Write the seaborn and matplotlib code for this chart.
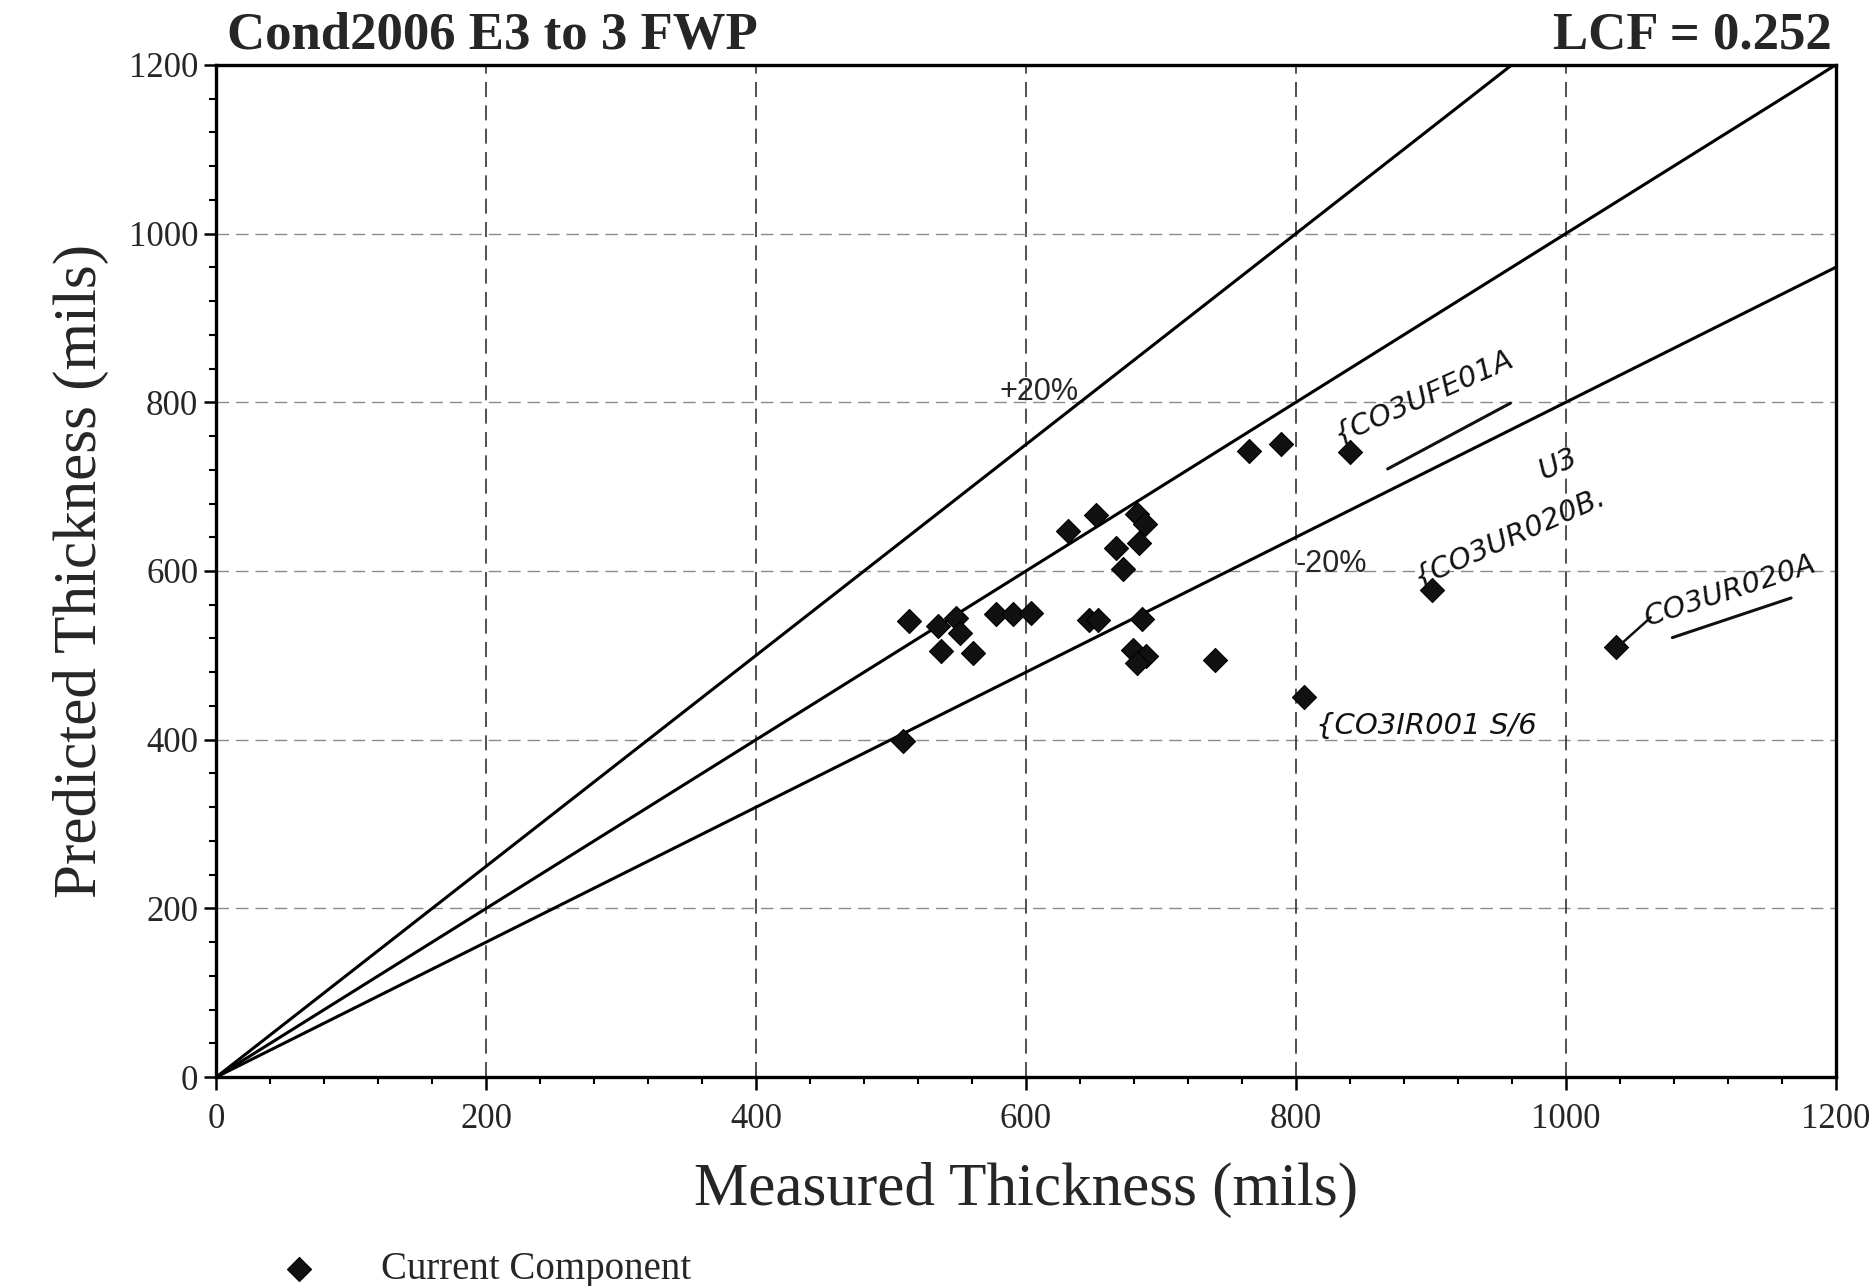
import matplotlib
matplotlib.use("Agg")
import matplotlib.pyplot as plt
import numpy as np
import pandas as pd
import seaborn as sns
from matplotlib.ticker import MultipleLocator

# Measured vs. predicted wall thickness (mils)
measured = [509, 513, 535, 537, 548, 551, 561, 578, 590, 604,
            631, 647, 653, 652, 667, 672, 682, 684, 688, 686,
            679, 689, 682, 740, 765, 789, 806, 840, 901, 1037]
predicted = [399, 541, 535, 505, 544, 526, 503, 549, 549, 550,
             648, 542, 542, 666, 627, 602, 668, 633, 656, 543,
             506, 499, 491, 495, 742, 751, 450, 741, 577, 510]

# Reference lines: +20%, 1:1, -20%
ref_slopes = [1.25, 1.0, 0.8]
ref_x = [0, 1200]

title_left = "Cond2006 E3 to 3 FWP"
title_right = "LCF = 0.252"
x_label = "Measured Thickness (mils)"
y_label = "Predicted Thickness (mils)"
legend_label = "Current Component"

# Hand-written component notes (text, x, y, rotation)
notes = [
    ("{CO3UFE01A", 833, 745, 24),
    ("U3", 985, 702, 25),
    ("{CO3UR020B.", 893, 575, 24),
    ("CO3UR020A", 1062, 528, 18),
    ("{CO3IR001 S/6", 815, 400, 0),
]
underlines = [
    ([868, 959], [721, 799]),
    ([1079, 1167], [521, 568]),
]
leader = ([1040, 1063], [512, 545])

sns.set_style("white")
plt.rcParams["font.family"] = ["Liberation Serif", "DejaVu Serif"]

fig = plt.figure(figsize=(18.75, 12.86), dpi=100)
ax = fig.add_axes([0.1154, 0.1625, 0.8636, 0.787])

df = pd.DataFrame({"Measured": measured, "Predicted": predicted})

# Dashed grid at major ticks
for v in [200, 400, 600, 800, 1000]:
    ax.axvline(v, color="#333333", lw=1.2, ls=(0, (9, 5)), zorder=1)
    ax.axhline(v, color="#8a8a8a", lw=1.0, ls=(0, (9, 5)), zorder=1)

for s in ref_slopes:
    xs = np.array(ref_x, dtype=float)
    sns.lineplot(x=xs, y=s * xs, ax=ax, color="black", lw=2.2, zorder=2)

sns.scatterplot(data=df, x="Measured", y="Predicted", ax=ax, marker="D",
                s=150, color="#111111", edgecolor="black", linewidth=0.8,
                zorder=3, label=legend_label)

ax.set_xlim(0, 1200)
ax.set_ylim(0, 1200)
ax.xaxis.set_major_locator(MultipleLocator(200))
ax.yaxis.set_major_locator(MultipleLocator(200))
ax.xaxis.set_minor_locator(MultipleLocator(40))
ax.yaxis.set_minor_locator(MultipleLocator(40))
ax.tick_params(axis="both", which="major", direction="out", length=9,
               width=1.8, labelsize=25, pad=4, color="black",
               bottom=True, left=True)
ax.tick_params(axis="both", which="minor", direction="out", length=5,
               width=1.5, bottom=True, left=True, color="black")
ax.tick_params(axis="x", which="major", pad=10)
for sp in ax.spines.values():
    sp.set_color("black")
    sp.set_linewidth(2.4)

ax.set_xlabel(x_label, fontsize=44, labelpad=18)
ax.set_ylabel(y_label, fontsize=44, labelpad=14)

fig.text(0.121, 0.962, title_left, fontsize=38, fontweight="bold",
         ha="left", va="baseline")
fig.text(0.977, 0.962, title_right, fontsize=38, fontweight="bold",
         ha="right", va="baseline")

ax.text(580, 812, "+20%", fontsize=22, family="Liberation Sans",
        ha="left", va="center", zorder=4)
ax.text(800, 608, "-20%", fontsize=22, family="Liberation Sans",
        ha="left", va="center", zorder=4)

for txt, x, y, rot in notes:
    ax.text(x, y, txt, fontsize=21, family="DejaVu Sans", style="italic",
            rotation=rot, rotation_mode="anchor", ha="left", va="bottom",
            color="#111111", zorder=4)
for xs, ys in underlines:
    ax.plot(xs, ys, color="#111111", lw=2.2, zorder=4)
ax.plot(leader[0], leader[1], color="#111111", lw=1.8, zorder=4)

ax.legend(loc="lower left", bbox_to_anchor=(0.120, -0.029),
          bbox_transform=fig.transFigure, frameon=False, fontsize=28,
          handletextpad=1.1, markerscale=1.0)

fig.savefig("out.png", dpi=100)
